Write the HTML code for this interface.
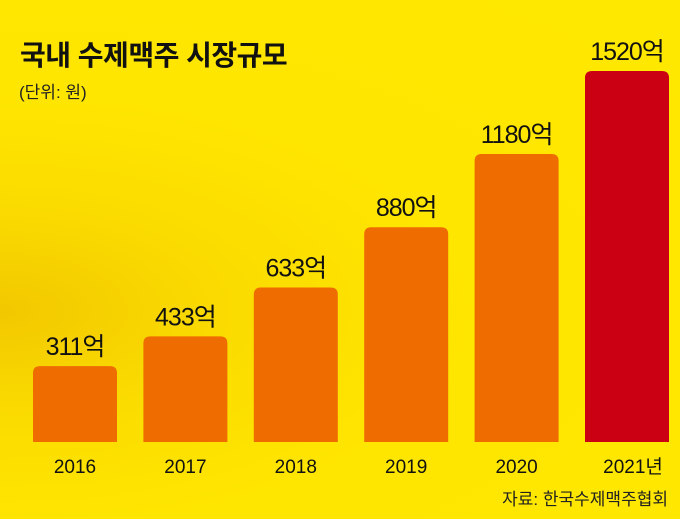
<!DOCTYPE html>
<html><head><meta charset="utf-8">
<style>
html,body{margin:0;padding:0}
body{width:680px;height:519px;overflow:hidden;position:relative;font-family:"Liberation Sans","Noto Sans CJK KR",sans-serif;
background:radial-gradient(ellipse at 0% 60%, #f2c800 0%, #fbdc00 25%, #ffe600 50%, #ffe800 100%);}
.t{position:absolute;color:#111;white-space:nowrap}
svg{position:absolute;left:0;top:0}
</style></head><body>
<div class="t" style="left:20px;top:34px;font-size:28px;font-weight:bold;letter-spacing:-0.5px">국내 수제맥주 시장규모</div>
<div class="t" style="left:19px;top:78px;font-size:17px;color:#222">(단위: 원)</div>
<div class="t" style="right:12px;top:485px;font-size:17px;color:#222">자료: 한국수제맥주협회</div>
<svg id="chart" width="680" height="519"></svg>
<script>
const categories=["2016","2017","2018","2019","2020","2021년"];
const values=[311,433,633,880,1180,1520];
const valueLabels=["311억","433억","633억","880억","1180억","1520억"];
const svg=document.getElementById('chart');
const NS='http://www.w3.org/2000/svg';
const baseY=442, topY=71, maxV=1520;
function y(v){return baseY-(baseY-topY)*v/maxV;}
function xStart(i){return 33+i*110.4;}
const bw=84;
categories.forEach((c,i)=>{
  const r=document.createElementNS(NS,'path');
  const x0=xStart(i), y0=y(values[i]), rr=7;
  r.setAttribute('d',`M${x0},${baseY}V${y0+rr}Q${x0},${y0} ${x0+rr},${y0}H${x0+bw-rr}Q${x0+bw},${y0} ${x0+bw},${y0+rr}V${baseY}Z`);
  r.setAttribute('fill',i===categories.length-1?'#cc0013':'#ee6c00');
  
  
  svg.appendChild(r);
  const t=document.createElementNS(NS,'text');
  t.setAttribute('x',x0+bw/2);t.setAttribute('y',y0-11);
  t.setAttribute('text-anchor','middle');t.setAttribute('font-size','25');t.setAttribute('fill','#111');
  t.setAttribute('letter-spacing','-1');
  t.setAttribute('font-family','"Liberation Sans","Noto Sans CJK KR",sans-serif');
  t.textContent=valueLabels[i];
  
  
  svg.appendChild(t);
  const l=document.createElementNS(NS,'text');
  l.setAttribute('x',x0+bw/2+(i===categories.length-1?6:0));l.setAttribute('y',473);
  l.setAttribute('text-anchor','middle');l.setAttribute('font-size','19');l.setAttribute('fill','#111');
  l.setAttribute('font-family','"Liberation Sans","Noto Sans CJK KR",sans-serif');
  l.textContent=c;
  
  
  svg.appendChild(l);
});
</script>
</body></html>
